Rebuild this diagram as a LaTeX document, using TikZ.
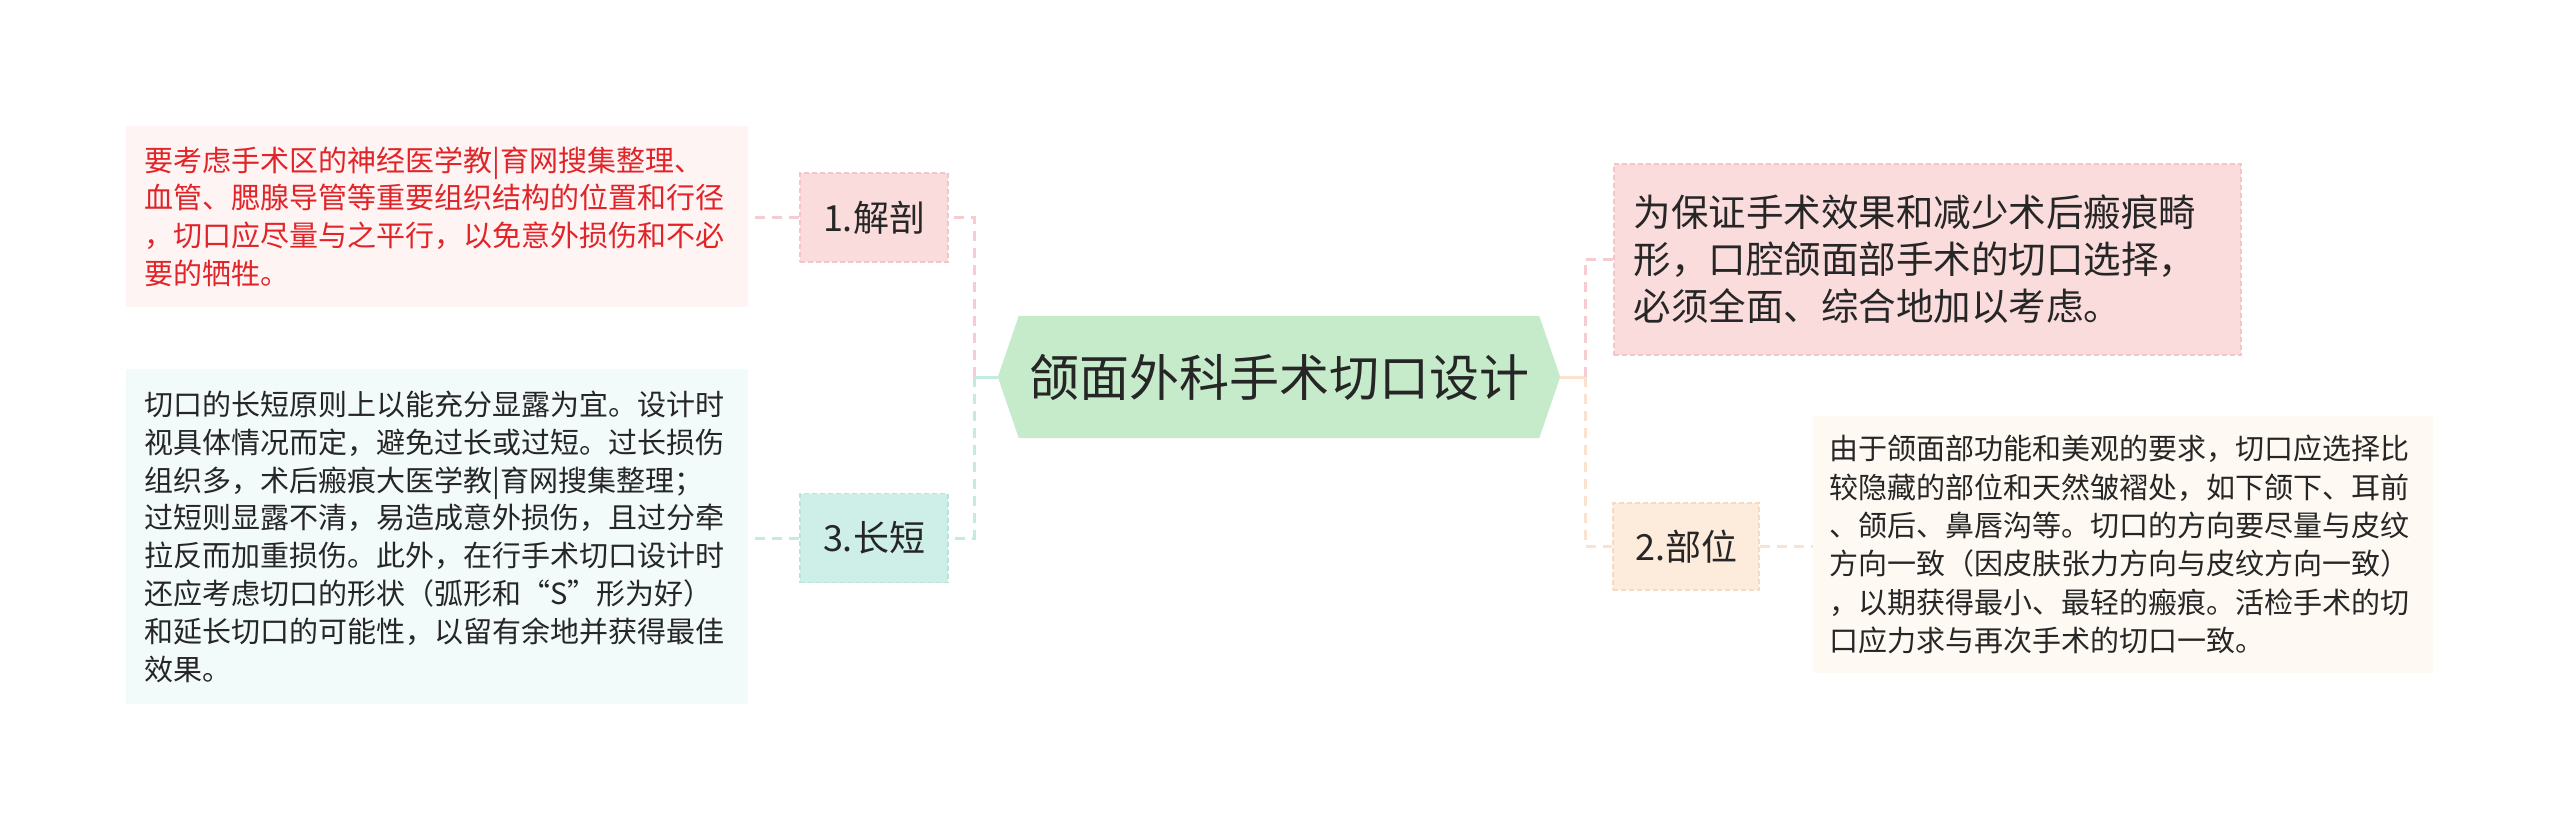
\documentclass[tikz,border=0pt]{standalone}
\usepackage{fontspec}
\setmainfont{Noto Sans CJK SC}
\usetikzlibrary{backgrounds}
\definecolor{txt}{HTML}{262626}
\definecolor{redtxt}{HTML}{E02428}
\definecolor{rootfill}{HTML}{C6EBCB}
\definecolor{pinkfill}{HTML}{FADCDC}
\definecolor{pinkline}{HTML}{F5CDD0}
\definecolor{pinkborder}{HTML}{F2C6C8}
\definecolor{tealfill}{HTML}{CDEFE8}
\definecolor{tealline}{HTML}{C5EAE3}
\definecolor{tealborder}{HTML}{B8E4DB}
\definecolor{peachfill}{HTML}{FDEBDB}
\definecolor{peachline}{HTML}{FBE2CC}
\definecolor{peachborder}{HTML}{F6DBC3}
\definecolor{dpink}{HTML}{FEF4F4}
\definecolor{dteal}{HTML}{F3FBFA}
\definecolor{dpeach}{HTML}{FEFAF3}
\begin{document}
\begin{tikzpicture}[x=1pt,y=-1pt,
  lbl/.style={minimum width=148pt, minimum height=89pt, inner sep=0pt,
    font=\fontsize{36}{42}\selectfont, text=txt, line width=1.5pt,
    dash pattern=on 5pt off 3pt},
  detail/.style={anchor=north west, align=left, inner ysep=0pt, text=txt},
  small/.style={font=\fontsize{29}{37.8}\selectfont},
  conn/.style={line width=3pt, dash pattern=on 10pt off 7pt},
  solidconn/.style={line width=3pt}]
\useasboundingbox (0,0) rectangle (2560,831);

% root
\node[minimum width=520pt, minimum height=122pt, inner sep=0pt,
  font=\fontsize{50}{56}\selectfont, text=txt] (root) at (1279,377) {颌面外科手术切口设计};
\coordinate (rootL) at ([xshift=-21pt]root.west);
\coordinate (rootR) at ([xshift=21pt]root.east);

% labels
\node[lbl, fill=pinkfill, draw=pinkborder] (l1) at (874,217.5) {1.解剖};
\node[lbl, fill=tealfill, draw=tealborder] (l3) at (874,538) {3.长短};
\node[lbl, fill=peachfill, draw=peachborder, minimum width=146pt, minimum height=87pt] (l2) at (1686,546.5) {2.部位};

% details
\node[detail, small, text=redtxt, fill=dpink, minimum width=622pt, minimum height=181pt,
  inner xsep=18pt, text width=586pt] (d1) at (126,126)
  {要考虑手术区的神经医学教|育网搜集整理、\\血管、腮腺导管等重要组织结构的位置和行径\\，切口应尽量与之平行，以免意外损伤和不必\\要的牺牲。};
\node[detail, small, fill=dteal, minimum width=622pt, minimum height=335pt,
  inner xsep=18pt, text width=586pt] (d3) at (126,369)
  {切口的长短原则上以能充分显露为宜。设计时\\视具体情况而定，避免过长或过短。过长损伤\\组织多，术后瘢痕大医学教|育网搜集整理；\\过短则显露不清，易造成意外损伤，且过分牵\\拉反而加重损伤。此外，在行手术切口设计时\\还应考虑切口的形状（弧形和“S”形为好）\\和延长切口的可能性，以留有余地并获得最佳\\效果。};
\node[detail, font=\fontsize{37.5}{46.6}\selectfont, fill=pinkfill, draw=pinkborder,
  line width=1.5pt, dash pattern=on 5pt off 3pt,
  minimum width=627pt, minimum height=191pt, inner xsep=20pt, text width=587pt] (r0) at (1613,163)
  {为保证手术效果和减少术后瘢痕畸\\形，口腔颌面部手术的切口选择，\\必须全面、综合地加以考虑。};
\node[detail, font=\fontsize{29}{38.4}\selectfont, fill=dpeach, minimum width=620pt, minimum height=257pt,
  inner xsep=16pt, text width=588pt] (d2) at (1813,416)
  {由于颌面部功能和美观的要求，切口应选择比\\较隐藏的部位和天然皱褶处，如下颌下、耳前\\、颌后、鼻唇沟等。切口的方向要尽量与皮纹\\方向一致（因皮肤张力方向与皮纹方向一致）\\，以期获得最小、最轻的瘢痕。活检手术的切\\口应力求与再次手术的切口一致。};

% connectors and backgrounds
\coordinate (bL) at (974,377);
\coordinate (bR) at (1585,377);
\begin{scope}[on background layer]
\fill[white] (0,0) rectangle (2560,831);
\fill[rootfill] (root.north west) -- (root.north east) -- (rootR) -- (root.south east) -- (root.south west) -- (rootL) -- cycle;
\draw[solidconn, tealline] (rootL) -- (bL);
\draw[conn, pinkline] (bL) |- (l1.east);
\draw[conn, tealline] (bL) |- (l3.east);
\draw[conn, pinkline] (l1.west) -- (l1.west -| d1.east);
\draw[conn, tealline] (l3.west) -- (l3.west -| d3.east);
\draw[solidconn, peachline] (rootR) -- (bR);
\draw[conn, pinkline] (bR) |- (r0.west);
\draw[conn, peachline] (bR) |- (l2.west);
\draw[conn, peachline] (l2.east) -- (l2.east -| d2.west);
\end{scope}
\end{tikzpicture}
\end{document}
